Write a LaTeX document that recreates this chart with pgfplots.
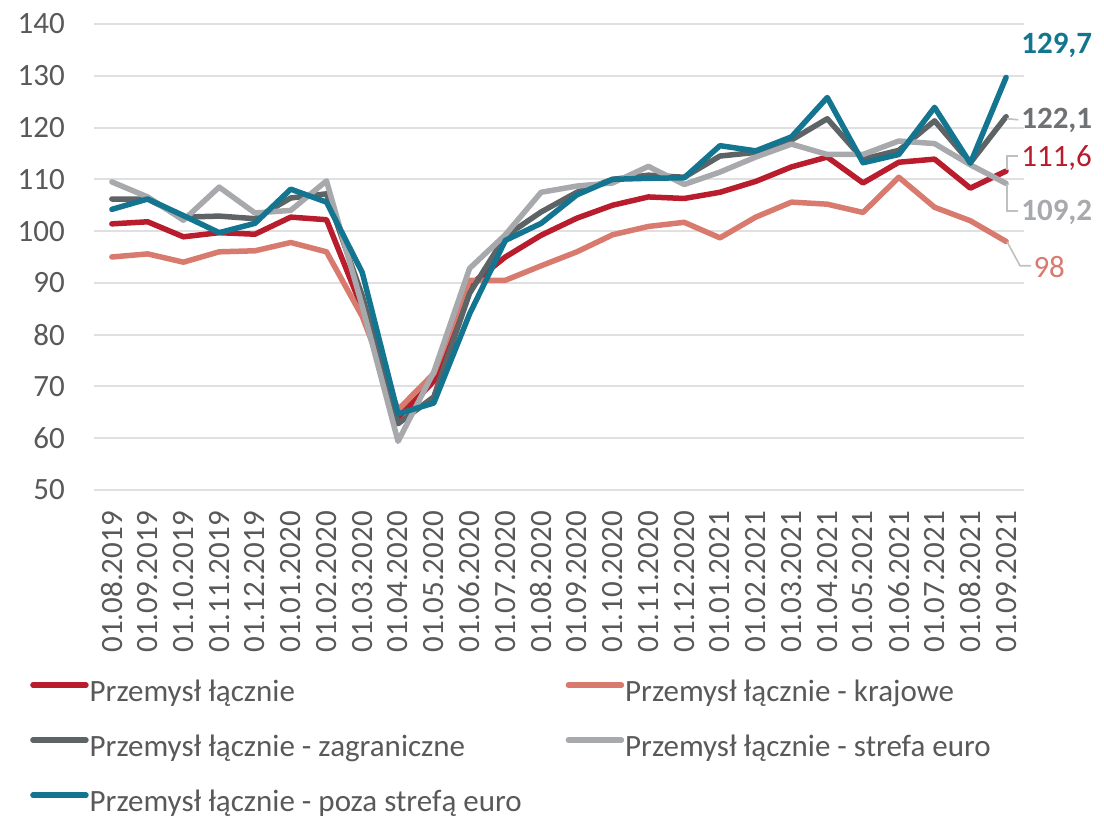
\documentclass[border=0pt]{standalone}
\usepackage{fontspec}
\setmainfont{Carlito}
\usepackage{pgfplots}
\pgfplotsset{compat=1.18}
\definecolor{cRed}{HTML}{B91C2C}
\definecolor{cSal}{HTML}{D87B6E}
\definecolor{cDg}{HTML}{5E6366}
\definecolor{cLg}{HTML}{A7A9AC}
\definecolor{cBlue}{HTML}{13758F}
\definecolor{gridc}{HTML}{E0E0E0}
\definecolor{tickc}{HTML}{595959}
\definecolor{leadc}{HTML}{C0C0C0}
\pgfplotstableread{
i red sal dg lg blue
0 101.4 95.0 106.2 109.5 104.2
1 101.8 95.6 106.2 106.6 106.2
2 98.9 94.0 102.7 102.1 103.0
3 99.7 96.0 102.9 108.5 99.7
4 99.4 96.2 102.4 103.5 101.5
5 102.7 97.8 106.4 104.0 108.1
6 102.2 96.0 107.2 109.7 105.6
7 85.0 83.5 87.5 85.5 92.0
8 64.0 65.5 62.8 59.4 64.7
9 71.0 72.5 68.0 72.8 66.8
10 89.5 90.5 88.0 92.8 84.0
11 95.0 90.5 99.0 99.3 98.2
12 99.2 93.3 103.7 107.5 101.5
13 102.5 96.0 107.5 108.7 107.0
14 105.0 99.3 110.0 109.3 110.0
15 106.6 100.9 110.8 112.5 110.2
16 106.3 101.7 110.4 109.0 110.3
17 107.5 98.7 114.5 111.4 116.5
18 109.6 102.7 115.2 114.3 115.5
19 112.4 105.6 117.6 116.8 118.2
20 114.3 105.2 121.7 114.8 125.8
21 109.3 103.6 113.9 114.8 113.2
22 113.3 110.4 115.6 117.4 114.8
23 113.9 104.6 121.3 116.9 123.9
24 108.3 102.0 113.2 112.8 113.1
25 111.6 98.0 122.1 109.2 129.7
}\datatable
\begin{document}
\fontsize{31pt}{37pt}\selectfont
\begin{tikzpicture}
\path[use as bounding box] (-94pt,-328pt) rectangle (1010pt,490pt);
\begin{axis}[
  at={(0pt,0pt)}, anchor=south west,
  scale only axis, width=930pt, height=466pt,
  xmin=-0.5, xmax=25.5, ymin=50, ymax=140,
  ytick={50,60,...,140},
  xtick={0,...,25},
  xticklabels={01.08.2019,01.09.2019,01.10.2019,01.11.2019,01.12.2019,01.01.2020,01.02.2020,01.03.2020,01.04.2020,01.05.2020,01.06.2020,01.07.2020,01.08.2020,01.09.2020,01.10.2020,01.11.2020,01.12.2020,01.01.2021,01.02.2021,01.03.2021,01.04.2021,01.05.2021,01.06.2021,01.07.2021,01.08.2021,01.09.2021},
  axis line style={draw=none},
  major tick length=0pt,
  ymajorgrids, grid style={color=gridc, line width=2pt},
  tick label style={font=\fontsize{31pt}{37pt}\selectfont, color=tickc},
  /pgf/number format/assume math mode=true,
  yticklabel style={anchor=east, inner sep=0pt}, yticklabel shift=29pt,
  xticklabel style={rotate=90, anchor=east, inner sep=0pt}, xticklabel shift=21pt,
  clip=false,
  legend columns=2,
  legend cell align=left,
  legend style={at={(axis description cs:-0.0688,-0.4056)}, anchor=north west, draw=none, fill=none, inner sep=0pt,
    font=\fontsize{31pt}{37pt}\selectfont, text=tickc, row sep=25pt,
    nodes={inner sep=0pt, text height=22pt, text depth=8pt},
    /tikz/every even column/.append style={column sep=44pt},
    /tikz/every odd column/.append style={column sep=1pt}},
  legend image code/.code={\draw[#1, line width=5.5pt] (0pt,9pt) -- (53pt,9pt);},
  every axis plot/.append style={line width=5.5pt, line join=round, line cap=round},
]
\addplot[cRed] table[x=i, y=red] {\datatable};
\addlegendentry{Przemysł łącznie}
\addplot[cSal] table[x=i, y=sal] {\datatable};
\addlegendentry{Przemysł łącznie - krajowe}
\addplot[cDg] table[x=i, y=dg] {\datatable};
\addlegendentry{Przemysł łącznie - zagraniczne}
\addplot[cLg] table[x=i, y=lg] {\datatable};
\addlegendentry{Przemysł łącznie - strefa euro}
\addplot[cBlue] table[x=i, y=blue] {\datatable};
\addlegendentry{Przemysł łącznie - poza strefą euro}
% leader lines
\draw[leadc, line width=1.6pt] (axis cs:25.03,121.7) -- (axis cs:25.34,121.5);
\draw[leadc, line width=1.6pt] (axis cs:25.03,111.8) -- (axis cs:25.03,114.5) -- (axis cs:25.34,114.5);
\draw[leadc, line width=1.6pt] (axis cs:25.03,109.1) -- (axis cs:25.03,103.9) -- (axis cs:25.34,103.9);
\draw[leadc, line width=1.6pt] (axis cs:25.03,97.9) -- (axis cs:25.39,93.3) -- (axis cs:25.70,93.3);
% end labels
\node[anchor=west, inner sep=0pt, text=cBlue, font=\fontsize{31pt}{37pt}\selectfont\bfseries] at (axis cs:25.42,135.9) {129,7};
\node[anchor=west, inner sep=0pt, text=cDg!90!white, font=\fontsize{31pt}{37pt}\selectfont\bfseries] at (axis cs:25.42,121.4) {122,1};
\node[anchor=west, inner sep=0pt, text=cRed, font=\fontsize{31pt}{37pt}\selectfont] at (axis cs:25.42,114.1) {111,6};
\node[anchor=west, inner sep=0pt, text=cLg, font=\fontsize{31pt}{37pt}\selectfont\bfseries] at (axis cs:25.42,103.7) {109,2};
\node[anchor=west, inner sep=0pt, text=cSal, font=\fontsize{31pt}{37pt}\selectfont] at (axis cs:25.76,93.0) {98};
\end{axis}
\end{tikzpicture}
\end{document}
